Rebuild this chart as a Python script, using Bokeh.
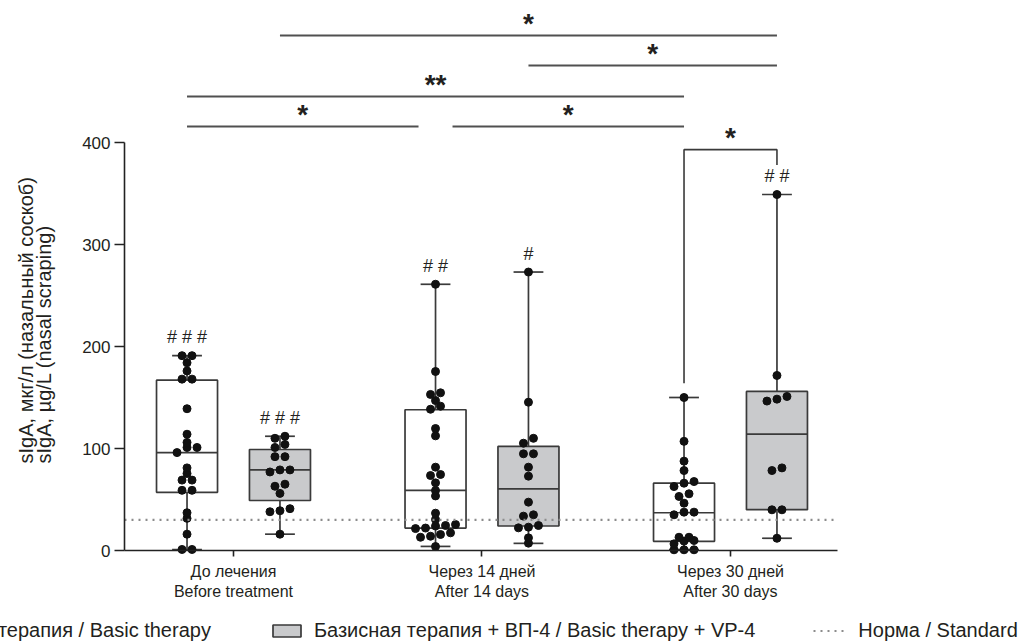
import math
from bokeh.plotting import figure
from bokeh.models import (Range1d, FixedTicker, Legend, LegendItem, Label,
                          ColumnDataSource)
from bokeh.core.properties import value
from bokeh.embed import file_html
from bokeh.resources import INLINE

# ---------------- data ----------------
categories = ["До лечения\nBefore treatment",
              "Через 14 дней\nAfter 14 days",
              "Через 30 дней\nAfter 30 days"]
series_names = ["Базисная терапия / Basic therapy",
                "Базисная терапия + ВП-4 / Basic therapy + VP-4"]
norm_name = "Норма / Standard"
norm_value = 30

basic_before = [191, 191, 184, 176, 168, 168, 139, 114, 106, 101, 101, 96, 81,
                75.5, 69, 69, 59, 59, 37, 31.5, 16, 1, 1]
basic_day14 = [261, 175.5, 154.6, 153, 147, 141.5, 138.5, 119.6, 112.4, 81.7,
               74.5, 73.5, 66.3, 58.8, 53.5, 36.6, 30.4, 25.5, 24.5, 24, 22,
               21.5, 17.3, 15.7, 14, 13, 3.9]
basic_day30 = [150, 107, 87.6, 78.4, 67.6, 66, 62.7, 55.6, 53, 46.4, 37.6,
               37.6, 35, 13, 13, 9.8, 9.2, 6.5, 0.7, 0.7, 0.7]
vp4_before = [112, 110, 104, 101, 92, 92, 79, 79, 77, 65, 63, 56, 41, 39, 38, 16]
vp4_day14 = [273, 145.4, 110, 105.2, 94.8, 94.8, 81.7, 72.9, 47.4, 35, 33.7,
             24.5, 22.9, 22.2, 12.4, 7.2]
vp4_day30 = [349, 171.6, 151, 148.4, 146.5, 81, 78.4, 39.9, 39.9, 12]

basic_lo = [1, 4, 1]
basic_q1 = [57, 22, 9]
basic_med = [96, 59, 37]
basic_q3 = [167, 138, 66]
basic_hi = [191, 261, 150]
vp4_lo = [16, 7, 12]
vp4_q1 = [49, 24, 40]
vp4_med = [79, 60.5, 114]
vp4_q3 = [99, 102, 156]
vp4_hi = [112, 273, 349]

basic_hash = ["# # #", "# #", ""]
vp4_hash = ["# # #", "#", "# #"]

y_ticks = [0, 100, 200, 300, 400]
y_title_ru = "sIgA, мкг/л (назальный соскоб)"
y_title_en = "sIgA, µg/L (nasal scraping)"

# significance bars: (series, group) -> (series, group)
sig_from = [("vp4", 0), ("vp4", 1), ("basic", 0), ("basic", 0), ("basic", 1)]
sig_to = [("vp4", 2), ("vp4", 2), ("basic", 2), ("basic", 1), ("basic", 2)]
sig_level = [505, 475.5, 445, 415.7, 415.7]
sig_label = ["*", "*", "**", "*", "*"]
bracket_from = ("basic", 2)
bracket_to = ("vp4", 2)
bracket_level = 393
bracket_feet = [164, 378]
bracket_label = "*"

# ---------------- style / layout ----------------
FONT = "Liberation Sans"
TXT = "#231f20"
LINE = "#3a3a3a"
GRAY = "#c9cacc"
OFFSET = 0.187
BOX_W = 0.2455
CAP_W = 0.12
PX_X = 248.5          # px per category unit
PX_Y = 1.02           # px per y unit
W, H = 1018, 642
AX_LEFT_PX, AX_RIGHT_PX, AX_ZERO_PX = 124, 837, 550
XA0 = -0.4386                              # x value at the y axis
XA1 = XA0 + (AX_RIGHT_PX - AX_LEFT_PX) / PX_X
X0 = XA0 - AX_LEFT_PX / PX_X
X1 = XA0 + (W - AX_LEFT_PX) / PX_X
Y1 = AX_ZERO_PX / PX_Y
Y0 = -(H - AX_ZERO_PX) / PX_Y
STAR_LIFT = 12


def xpx(px):
    return X0 + px / PX_X


def ypx(py):
    return (AX_ZERO_PX - py) / PX_Y


p = figure(width=W, height=H, x_range=Range1d(X0, X1),
           y_range=Range1d(Y0, Y1), output_backend="svg",
           toolbar_location=None, title=None,
           min_border_left=0, min_border_right=0,
           min_border_top=0, min_border_bottom=0)
p.outline_line_color = None
p.grid.visible = False
p.background_fill_color = "white"


def pos(key):
    s, g = key
    return g + (-OFFSET if s == "basic" else OFFSET)


def swarm(vals, center, thresh=5.0, step_px=10.0):
    srt = sorted(vals)
    xs, ys = [], []
    i = 0
    while i < len(srt):
        row = [srt[i]]
        j = i + 1
        while j < len(srt) and srt[j] - srt[i] <= thresh:
            row.append(srt[j])
            j += 1
        n = len(row)
        for k, v in enumerate(row):
            xs.append(center + (k - (n - 1) / 2) * step_px / PX_X)
            ys.append(v)
        i = j
    return xs, ys


renderers = {}
for key, lo, q1, med, q3, hi, fill, pts, hashes in [
        ("basic", basic_lo, basic_q1, basic_med, basic_q3, basic_hi, "white",
         [basic_before, basic_day14, basic_day30], basic_hash),
        ("vp4", vp4_lo, vp4_q1, vp4_med, vp4_q3, vp4_hi, GRAY,
         [vp4_before, vp4_day14, vp4_day30], vp4_hash)]:
    xs = [pos((key, g)) for g in range(3)]
    src = ColumnDataSource(dict(
        x=xs, lo=lo, q1=q1, med=med, q3=q3, hi=hi,
        bl=[x - BOX_W / 2 for x in xs], br=[x + BOX_W / 2 for x in xs],
        cl=[x - CAP_W / 2 for x in xs], cr=[x + CAP_W / 2 for x in xs],
        hy=[h + 18 for h in hi], hash=hashes))
    p.segment(x0="x", y0="q3", x1="x", y1="hi", source=src, line_color=LINE, line_width=1.7)
    p.segment(x0="x", y0="q1", x1="x", y1="lo", source=src, line_color=LINE, line_width=1.7)
    p.segment(x0="cl", y0="hi", x1="cr", y1="hi", source=src, line_color=LINE, line_width=1.7)
    p.segment(x0="cl", y0="lo", x1="cr", y1="lo", source=src, line_color=LINE, line_width=1.7)
    r = p.vbar(x="x", width=BOX_W, bottom="q1", top="q3", source=src,
               fill_color=fill, line_color=LINE, line_width=1.7)
    renderers[key] = r
    p.segment(x0="bl", y0="med", x1="br", y1="med", source=src, line_color=LINE, line_width=1.7)
    p.text(x="x", y="hy", text="hash", source=src, text_align="center",
           text_baseline="middle", text_font=value(FONT),
           text_font_size="18px", text_color=TXT)
    for g in range(3):
        px, py = swarm(pts[g], xs[g])
        p.scatter(px, py, size=8, fill_color="#111111", line_color="#111111")

# norm line along the x axis extent
norm_r = p.segment(x0=[XA0], y0=[norm_value], x1=[XA1], y1=[norm_value],
                   line_color="#8c8c8c", line_width=2.2, line_dash="2 5")

# significance bars
GAP = 17 / PX_X
ends = {}
for a, b, lvl in zip(sig_from, sig_to, sig_level):
    ends[(lvl, a)] = ends.get((lvl, a), 0) + 1
    ends[(lvl, b)] = ends.get((lvl, b), 0) + 1
sx0, sx1, sy, tx, ty = [], [], [], [], []
for a, b, lvl in zip(sig_from, sig_to, sig_level):
    xa, xb = pos(a), pos(b)
    if ends[(lvl, a)] > 1:
        xa += GAP
    if ends[(lvl, b)] > 1:
        xb -= GAP
    sx0.append(xa); sx1.append(xb); sy.append(lvl)
    tx.append((xa + xb) / 2); ty.append(lvl + STAR_LIFT)
p.segment(x0=sx0, y0=sy, x1=sx1, y1=sy, line_color="#505050", line_width=2)
p.text(x=tx, y=ty, text=sig_label, text_align="center", text_baseline="middle",
       text_font=value(FONT), text_font_style="bold", text_font_size="28px",
       text_color=TXT)

bx = [pos(bracket_from), pos(bracket_from), pos(bracket_to), pos(bracket_to)]
by = [bracket_feet[0], bracket_level, bracket_level, bracket_feet[1]]
p.line(bx, by, line_color="#3a3a3a", line_width=1.6)
p.text(x=[(bx[0] + bx[3]) / 2], y=[bracket_level + STAR_LIFT], text=[bracket_label],
       text_align="center", text_baseline="middle", text_font=value(FONT),
       text_font_style="bold", text_font_size="28px", text_color=TXT)

# axes (fixed inside the full-canvas frame)
yax = p.yaxis[0]
yax.fixed_location = XA0
yax.ticker = FixedTicker(ticks=y_ticks)
yax.bounds = (0, 400)
yax.major_tick_out = 10
yax.major_tick_in = 0
yax.minor_tick_line_color = None
yax.axis_line_width = 1.6
yax.axis_line_color = "#222222"
yax.major_tick_line_color = "#222222"
yax.major_tick_line_width = 1.6
yax.major_label_standoff = 4
yax.major_label_text_font = FONT
yax.major_label_text_font_size = "17px"
yax.major_label_text_color = TXT

xax = p.xaxis[0]
xax.fixed_location = 0
xax.ticker = FixedTicker(ticks=[0, 1, 2])
xax.major_label_overrides = {i: c for i, c in enumerate(categories)}
xax.bounds = (XA0, XA1)
xax.major_tick_out = 6
xax.major_tick_in = 0
xax.minor_tick_line_color = None
xax.axis_line_width = 1.6
xax.axis_line_color = "#222222"
xax.major_tick_line_color = "#222222"
xax.major_tick_line_width = 1.6
xax.major_label_standoff = 6
xax.major_label_text_font = FONT
xax.major_label_text_font_size = "16px"
xax.major_label_text_color = TXT

# y title (two lines, rotated, bottom-aligned)
for txt, cx in [(y_title_ru, 25), (y_title_en, 43)]:
    p.add_layout(Label(x=xpx(cx), y=ypx(463), text=txt, angle=math.pi / 2,
                       text_align="left", text_baseline="middle",
                       text_font=FONT, text_font_size="20px", text_color=TXT))

# legend
legend = Legend(items=[LegendItem(label=series_names[0], renderers=[renderers["basic"]]),
                       LegendItem(label=series_names[1], renderers=[renderers["vp4"]]),
                       LegendItem(label=norm_name, renderers=[norm_r])],
                location=(-140, 0), orientation="horizontal",
                glyph_width=35, glyph_height=15, label_height=20,
                label_standoff=10, padding=0, margin=0, spacing=58,
                border_line_color=None, background_fill_alpha=0,
                label_text_font=FONT, label_text_font_size="20px",
                label_text_color=TXT)
p.add_layout(legend, "center")

open("out.html", "w").write(file_html(p, INLINE))
